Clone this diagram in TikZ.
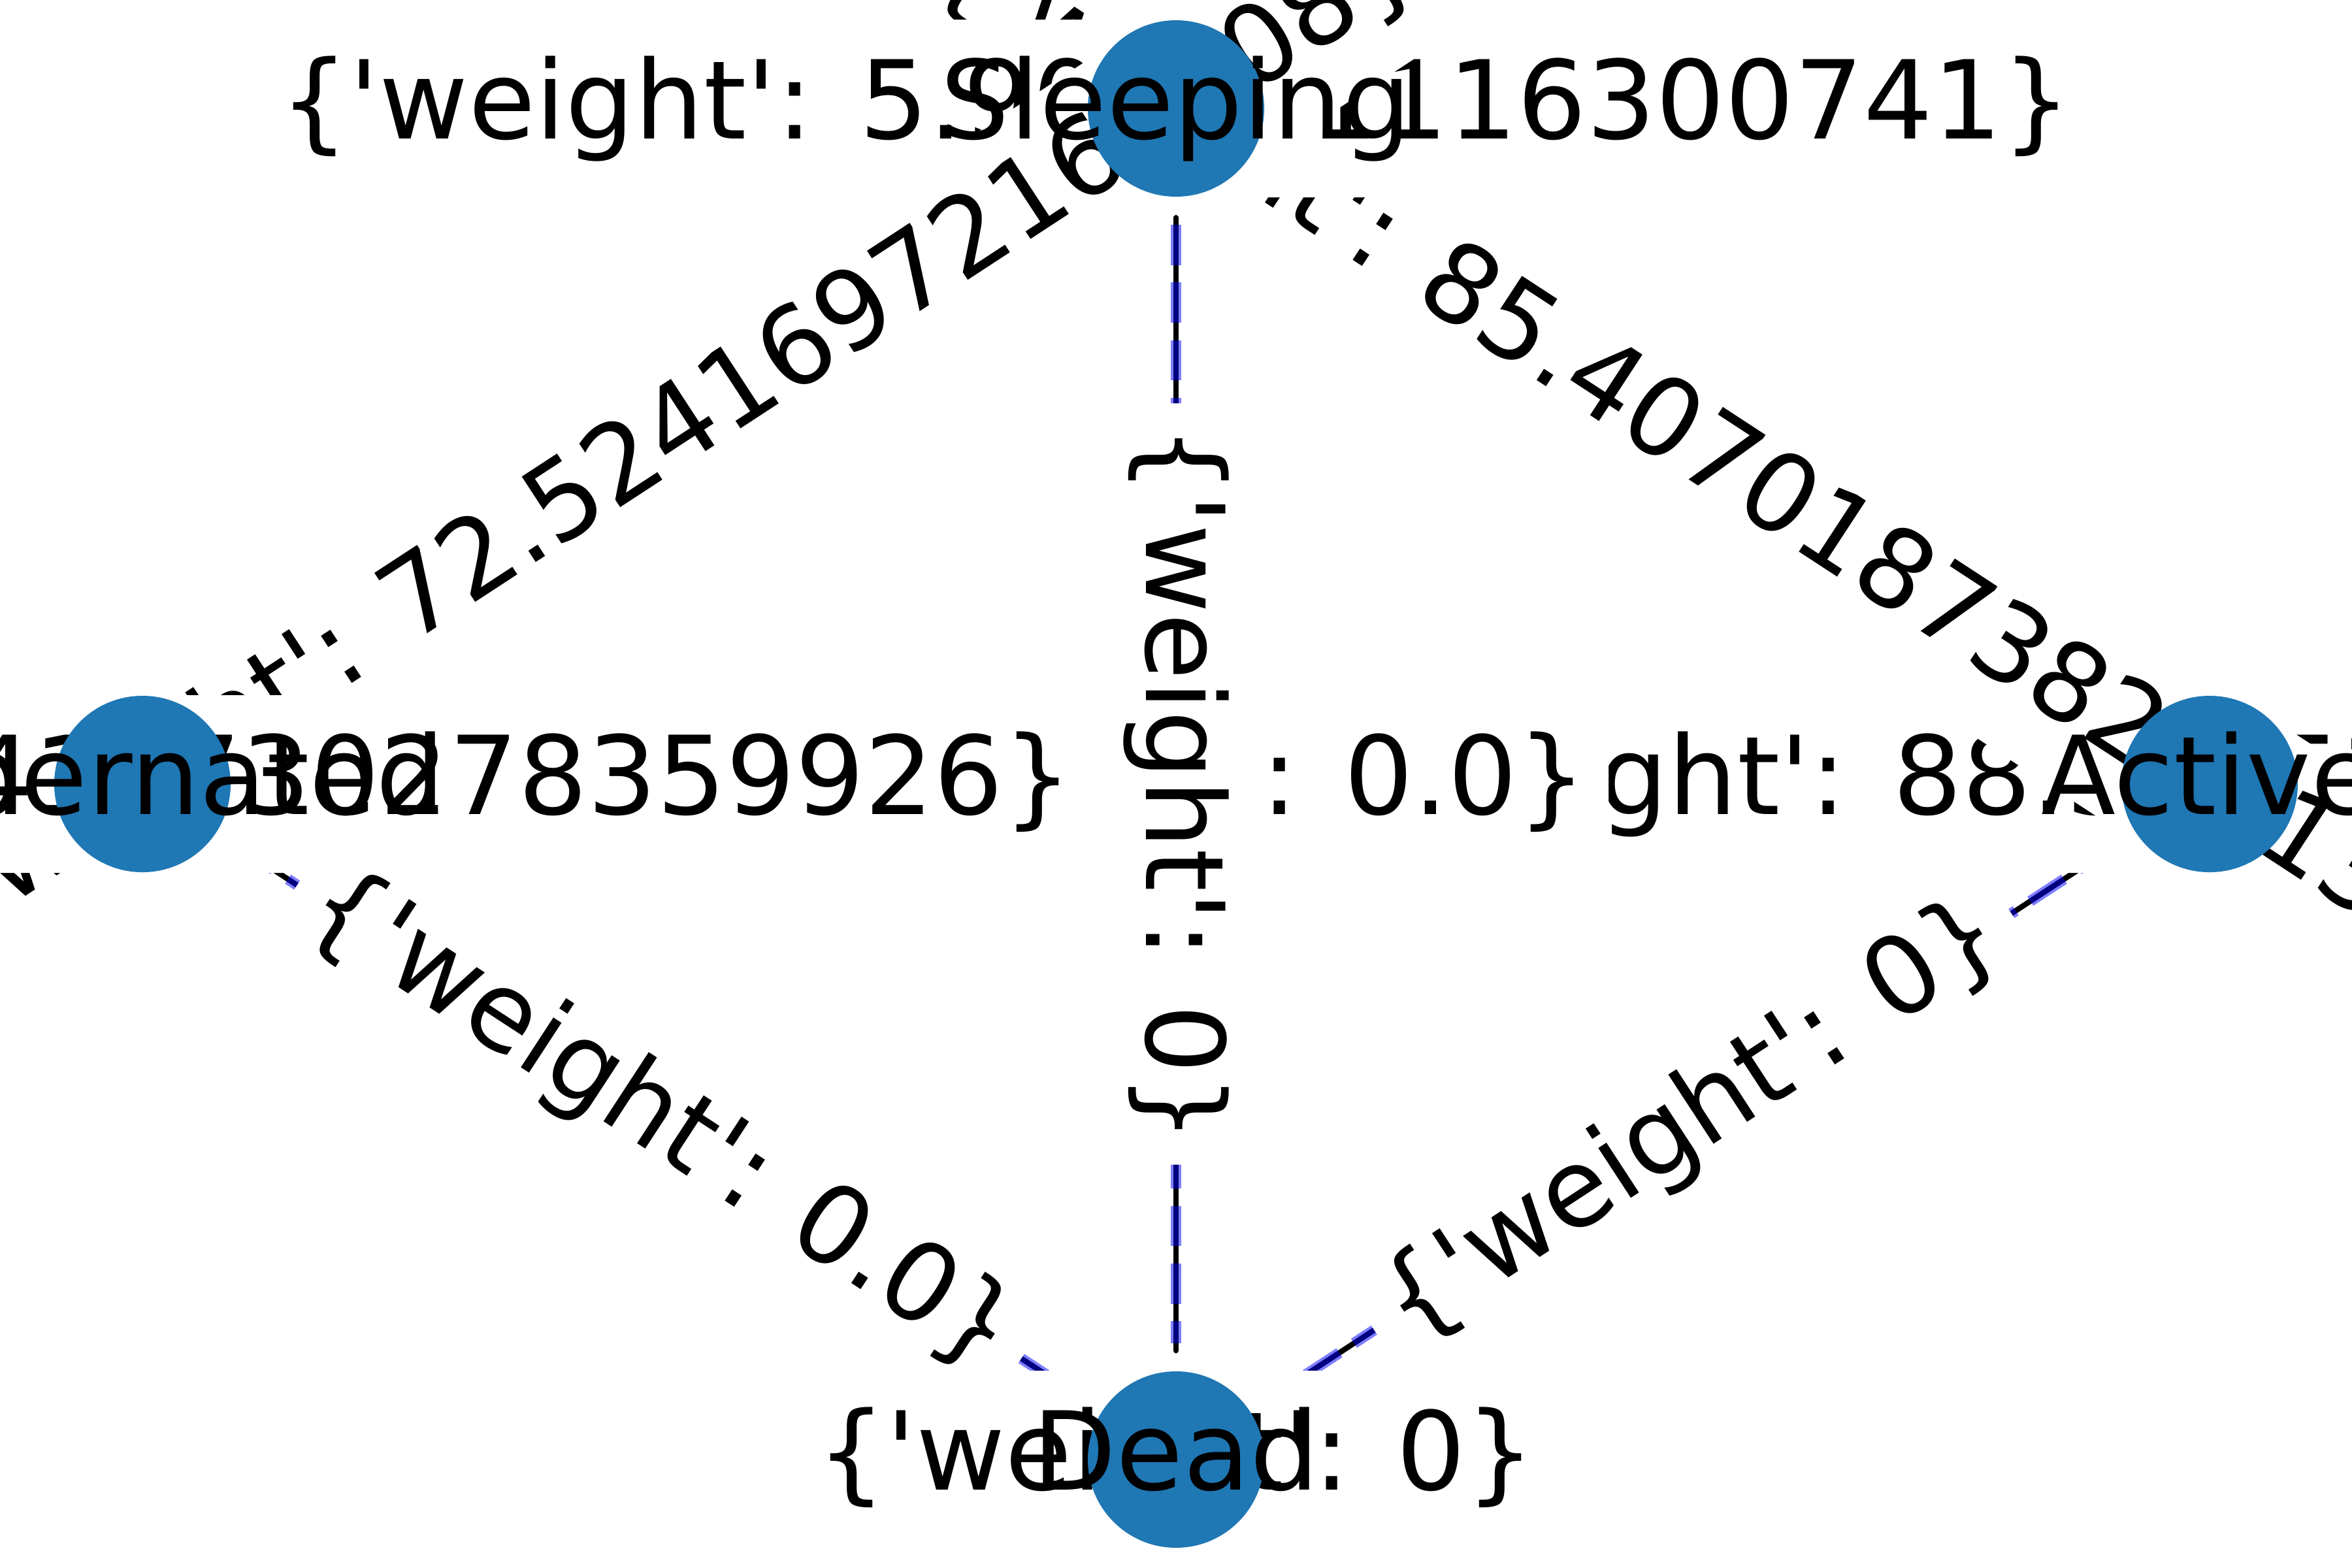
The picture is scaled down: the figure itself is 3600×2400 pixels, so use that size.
\documentclass[tikz,border=0pt]{standalone}
\usepackage{tikz}
\font\lblfont="DejaVu Sans" at 40bp
\def\lb{\char"7B\relax}
\def\rb{\char"7D\relax}
\definecolor{nodeblue}{HTML}{1F77B4}
\pgfdeclarelayer{bg}
\pgfdeclarelayer{edgelayer}
\pgfdeclarelayer{labellayer}
\pgfsetlayers{bg,edgelayer,labellayer,main}
\tikzset{
  vertex/.style={circle, fill=nodeblue, draw=none, inner sep=0pt, minimum size=64.8bp},
  nlabel/.style={font=\lblfont, inner sep=0pt, text height=31.68bp, text depth=9.6bp},
  elabel/.style={font=\lblfont, fill=white, draw=none, inner xsep=8bp, inner ysep=12bp,
                 text height=31.68bp, text depth=9.6bp, rounded corners=12bp},
  blackedge/.style={draw=black, line width=2bp, line cap=round,
                    shorten <=7.44bp, shorten >=7.44bp},
  blueedge/.style={draw=blue, draw opacity=0.5, line width=4bp,
                   dash pattern=on 14.8bp off 6.4bp,
                   shorten <=10.08bp, shorten >=10.08bp},
}
\begin{document}
\begin{tikzpicture}[x=0.24bp, y=-0.24bp]
\begin{pgfonlayer}{bg}
  \fill[white] (0,0) rectangle (3600,2400);
\end{pgfonlayer}
\useasboundingbox (0,0) rectangle (3600,2400);

% nodes (drawn on top of edges and edge labels)
\node[vertex] (S) at (1800,166) {};
\node[vertex] (H) at (218,1200) {};
\node[vertex] (A) at (3382,1200) {};
\node[vertex] (D) at (1800,2234) {};
\node[nlabel] (tS) at (S.center) {Sleeping};
\node[nlabel] (tH) at (H.center) {Hibernated};
\node[nlabel] (tA) at (A.center) {Active};
\node[nlabel] (tD) at (D.center) {Dead};

% edges
\begin{pgfonlayer}{edgelayer}
  \foreach \u/\v in {A/S,A/H,A/D,S/H,S/D,H/D}
    \draw[blackedge] (\u) -- (\v);
  \foreach \u/\v in {A/S,A/H,A/D,S/H,S/D,H/D}
    \draw[blueedge] (\u) -- (\v);
\end{pgfonlayer}

% edge labels, in drawing order
\begin{pgfonlayer}{labellayer}
  \node[elabel] (lAA) at (A.center) {\lb'weight': 88.37152930817464\rb};
  \path (A.center) -- (S.center) node[elabel, midway, rotate=-33.17] (lAS) {\lb'weight': 85.40701873829413\rb};
  \path (A.center) -- (H.center) node[elabel, midway] (lAH) {\lb'weight': 0.0\rb};
  \path (A.center) -- (D.center) node[elabel, midway, rotate=33.17] (lAD) {\lb'weight': 0\rb};
  \node[elabel] (lSS) at (S.center) {\lb'weight': 5.904371116300741\rb};
  \path (S.center) -- (H.center) node[elabel, midway, rotate=33.17] (lSH) {\lb'weight': 72.52416972163408\rb};
  \path (S.center) -- (D.center) node[elabel, midway, rotate=-90] (lSD) {\lb'weight': 0\rb};
  \node[elabel] (lHH) at (H.center) {\lb'weight': 14.412730278359926\rb};
  \path (H.center) -- (D.center) node[elabel, midway, rotate=-33.17] (lHD) {\lb'weight': 0.0\rb};
  \node[elabel] (lDD) at (D.center) {\lb'weight': 0\rb};
\end{pgfonlayer}
\end{tikzpicture}
\end{document}
